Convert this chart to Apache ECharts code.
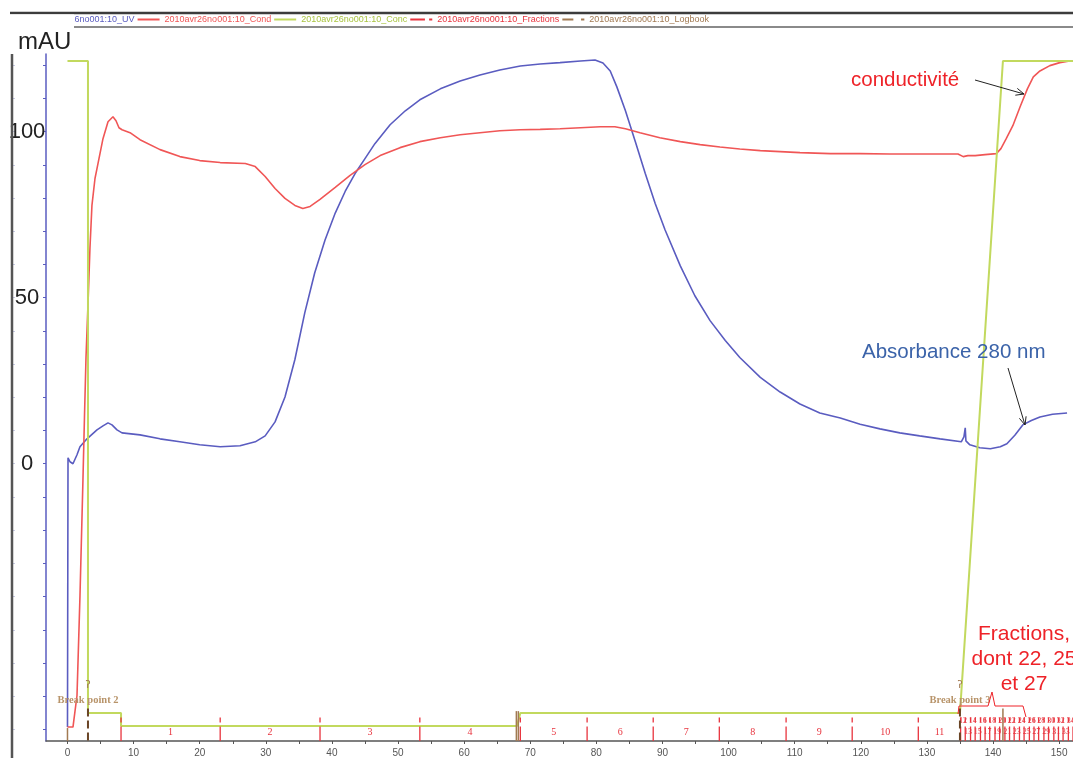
<!DOCTYPE html>
<html><head><meta charset="utf-8">
<script src="https://cdn.jsdelivr.net/npm/echarts@6/dist/echarts.min.js"></script>
<style>html,body{margin:0;padding:0;background:#fff}#c{width:1073px;height:758px}</style>
</head><body><div id="c"></div>
<script>
// ---------- DATA ----------
const uvName = '2010avr26no001:10_UV';
const condName = '2010avr26no001:10_Cond';
const concName = '2010avr26no001:10_Conc';
const fracName = '2010avr26no001:10_Fractions';
const logName = '2010avr26no001:10_Logbook';

const uvPoints = [[0,-79.3],[0.08,1.8],[0.38,0.6],[0.83,0.0],[1.13,0.3],[1.44,2.7],[1.89,5.1],[2.95,7.5],[4.46,10.2],[5.37,11.4],[6.13,12.3],[6.73,11.7],[7.49,10.2],[8.25,9.3],[10.97,8.7],[13.99,7.5],[17.0,6.6],[20.0,5.7],[23.1,5.1],[26.1,5.4],[28.4,6.6],[29.9,8.4],[31.4,12.6],[32.9,20.1],[34.4,31.4],[35.9,45.5],[37.4,57.5],[38.96,67.4],[40.5,75.5],[42.0,82.0],[43.5,87.4],[45.0,91.9],[46.5,96.4],[48.8,102.1],[51.1,106.3],[53.3,109.6],[56.4,112.9],[59.4,115.3],[62.4,117.1],[65.4,118.6],[68.5,119.8],[71.5,120.4],[74.5,120.8],[77.6,121.3],[79.8,121.6],[81.0,120.7],[82.1,118.3],[83.1,113.5],[84.4,106.3],[85.9,97.0],[87.4,87.4],[88.9,78.4],[90.4,70.4],[92.7,59.6],[94.9,50.6],[97.2,43.1],[99.5,37.1],[101.7,32.0],[104.8,26.0],[107.8,21.6],[110.8,18.0],[113.8,15.3],[116.9,13.8],[119.9,11.9],[122.9,10.5],[125.9,9.3],[128.9,8.4],[132.0,7.5],[135.2,6.6],[135.6,8.1],[135.8,10.8],[135.9,6.9],[136.5,5.7],[138.0,4.8],[139.6,4.5],[141.1,5.1],[142.1,6.0],[143.3,8.6],[144.5,11.7],[145.8,13.0],[147.1,14.1],[149.0,14.9],[151.2,15.3]];

const condPoints = [[0,-79.3],[0.83,-79.3],[1.13,-78.7],[1.44,-69.8],[1.89,-39.8],[2.34,-4.8],[2.57,14.1],[2.8,32],[3.1,47.9],[3.4,65],[3.7,77.8],[4.16,85.9],[4.46,88.9],[5.37,97.9],[6.13,103],[6.88,104.5],[7.34,103.3],[7.79,101.2],[8.25,100.6],[9.46,99.7],[10.97,97.6],[14.0,94.6],[17.0,92.5],[20.0,91.3],[23.1,90.7],[26.9,90.4],[28.4,89.5],[29.9,86.5],[31.4,82.9],[32.9,79.9],[34.4,77.8],[35.6,76.9],[36.7,77.5],[38.2,79.6],[40.5,83.2],[42.7,86.8],[45.0,90.1],[47.3,92.8],[50.3,95.2],[53.3,97.0],[56.4,98.2],[59.4,99.1],[62.4,99.7],[65.4,100.3],[68.5,100.6],[71.5,100.7],[74.5,100.9],[77.6,101.2],[80.6,101.5],[82.8,101.5],[84.4,100.9],[86.6,99.7],[89.6,98.2],[92.7,97.0],[95.7,96.1],[98.7,95.4],[101.7,94.8],[104.8,94.3],[107.8,94.0],[110.8,93.7],[115.4,93.4],[119.9,93.4],[124.4,93.3],[128.9,93.3],[134.7,93.3],[135.5,92.5],[136.2,92.8],[137.3,92.8],[138.8,93.1],[140.5,93.4],[141.2,94.9],[142.0,97.9],[143.0,101.8],[144.1,107.5],[145.2,112.9],[146.1,116.5],[147.1,118.3],[148.6,119.9],[150.1,120.8],[151.6,121.3]];

const concPoints = [[0,121.3],[3.1,121.3],[3.1,-75.1],[8.1,-75.1],[8.1,-79.0],[68.0,-79.0],[68.5,-75.1],[135.0,-75.1],[141.5,121.3],[152.1,121.3]];

const fractionBounds = [8.1,23.1,38.2,53.3,68.5,78.6,88.6,98.6,108.7,118.7,128.7,135.1,135.8,136.6,137.3,138.1,138.8,139.5,140.3,141.0,141.8,142.5,143.2,144.0,144.7,145.5,146.2,146.9,147.7,148.4,149.2,149.9,150.6,151.4,152.1];
const fractionLabels = ['1','2','3','4','5','6','7','8','9','10','11','12','13','14','15','16','17','18','19','20','21','22','23','24','25','26','27','28','29','30','31','32','33','34'];

const logbookX = [0, 3.1, 67.9, 68.2, 135.0, 141.5];
const logbookTop = [-79.6, -73.7, -74.5, -74.5, -73.7, -73.7];
const logbookLabel = ['', 'Break point 2', '', '', 'Break point 3', ''];

const xLabelValues = [0,10,20,30,40,50,60,70,80,90,100,110,120,130,140,150];
const xTickValues = [0,5,10,15,20,25,30,35,40,45,50,55,60,65,70,75,80,85,90,95,100,105,110,115,120,125,130,135,140,145,150];
const yLabelValues = [0,50,100];
const yTickValues = [-80,-70,-60,-50,-40,-30,-20,-10,0,10,20,30,40,50,60,70,80,90,100,110,120];

// ---------- STYLE ----------
const BLUE = '#5a5cc0', RED = '#f05656', GREEN = '#c2d95e', FRED = '#e8343e', BROWN = '#a27a52', BROWN_D = '#6a4526', BROWN_T = '#b8946a';
const Y_MIN = -83.5, Y_MAX = 123.4, X_MIN = -3.25, X_MAX = 152.1;
const FRAC_TOP = -76.4, ROW_LOW = -80.9, ROW_UP = -77.3, LABEL_Y = -71.2, HOOK_Y = -66.8;
const LINE_ICON = 'path://M0,0h22v2h-22z';

const fracLabelData = fractionLabels.map((lab, i) => {
  const n = i + 1;
  const row = (n >= 12 && n % 2 === 0) ? ROW_UP : ROW_LOW;
  return [(fractionBounds[i] + fractionBounds[i + 1]) / 2, row];
});

const chart = echarts.init(document.getElementById('c'), null, {renderer: 'canvas'});
chart.setOption({
  animation: false,
  backgroundColor: '#fff',
  grid: {left: 46, right: 0, top: 54, bottom: 12, containLabel: false},
  legend: {
    left: 10, top: 15, padding: 0, itemWidth: 22, itemHeight: 8, itemGap: 3, selectedMode: false,
    textStyle: {fontSize: 9, fontFamily: 'Liberation Sans'},
    data: [
      {name: uvName, icon: LINE_ICON, itemStyle: {color: BLUE}, textStyle: {color: BLUE}},
      {name: condName, icon: LINE_ICON, itemStyle: {color: RED}, textStyle: {color: RED}},
      {name: concName, icon: LINE_ICON, itemStyle: {color: GREEN}, textStyle: {color: '#a9c440'}},
      {name: fracName, icon: 'path://M0,0h14v2h-14z M18,0h3v2h-3z', itemStyle: {color: FRED}, textStyle: {color: FRED}},
      {name: logName, icon: 'path://M0,0h10v2h-10z M17,0h3v2h-3z', itemStyle: {color: BROWN}, textStyle: {color: BROWN}}
    ]
  },
  xAxis: {
    type: 'value', min: X_MIN, max: X_MAX,
    axisLine: {onZero: false, lineStyle: {color: '#555', width: 1.5}},
    axisTick: {show: true, customValues: xTickValues, length: 3, lineStyle: {color: '#555'}},
    axisLabel: {customValues: xLabelValues, margin: 7, fontSize: 10, color: '#555', fontFamily: 'Liberation Sans'},
    splitLine: {show: false}
  },
  yAxis: [{
    type: 'value', min: Y_MIN, max: Y_MAX, position: 'left',
    axisLine: {show: true, onZero: false, lineStyle: {color: BLUE, width: 1.5}},
    axisTick: {show: true, customValues: yTickValues, length: 3, lineStyle: {color: BLUE}},
    axisLabel: {customValues: yLabelValues, align: 'center', margin: 19, fontSize: 22, color: '#222', fontFamily: 'Liberation Sans'},
    splitLine: {show: false}
  }, {
    type: 'value', min: Y_MIN, max: Y_MAX, position: 'left', offset: 34,
    axisLine: {show: false, onZero: false},
    axisTick: {show: true, inside: true, customValues: yTickValues, length: 3, lineStyle: {color: '#c9cbe4'}},
    axisLabel: {show: false},
    splitLine: {show: false}
  }],
  series: [
    {name: uvName, type: 'line', data: uvPoints, symbol: 'none', lineStyle: {color: BLUE, width: 1.6}, itemStyle: {color: BLUE}, z: 3},
    {name: condName, type: 'line', data: condPoints, symbol: 'none', lineStyle: {color: RED, width: 1.6}, itemStyle: {color: RED}, z: 3},
    {name: concName, type: 'line', data: concPoints, symbol: 'none', lineStyle: {color: GREEN, width: 2}, itemStyle: {color: GREEN}, z: 4},
    {
      name: fracName, type: 'custom', data: fractionBounds.map(x => [x, FRAC_TOP]), itemStyle: {color: FRED}, z: 5,
      renderItem: (params, api) => {
        const p1 = api.coord([api.value(0), FRAC_TOP]);
        const p2 = api.coord([api.value(0), Y_MIN]);
        return {type: 'line', shape: {x1: p1[0], y1: p1[1], x2: p2[0], y2: p2[1]},
          style: {stroke: FRED, lineWidth: 1.3, lineDash: [5, 4, 40, 0]}};
      }
    },
    {
      name: fracName, type: 'custom', data: fracLabelData, itemStyle: {color: FRED}, z: 5,
      renderItem: (params, api) => {
        const i = params.dataIndex;
        const p = api.coord([api.value(0), api.value(1)]);
        const small = i >= 11;
        return {type: 'text', x: p[0], y: p[1],
          style: {text: fractionLabels[i], fill: FRED, font: (small ? '8px' : '10px') + ' "Liberation Serif"', align: 'center', verticalAlign: 'middle'}};
      }
    },
    {
      name: logName, type: 'custom', data: logbookX.map((x, i) => [x, logbookTop[i]]), itemStyle: {color: BROWN}, z: 6,
      renderItem: (params, api) => {
        const i = params.dataIndex;
        const x = api.value(0);
        const top = api.coord([x, api.value(1)]);
        const bot = api.coord([x, Y_MIN]);
        const isBreak = !!logbookLabel[i];
        const children = [{type: 'line', shape: {x1: top[0], y1: top[1], x2: bot[0], y2: bot[1]},
          style: {stroke: isBreak ? BROWN_D : BROWN, lineWidth: isBreak ? 2 : 1.5, lineDash: isBreak ? [8, 4] : null}}];
        if (isBreak) {
          const h = api.coord([x, HOOK_Y]);
          const t = api.coord([x, LABEL_Y]);
          children.push({type: 'text', x: h[0], y: h[1], style: {text: 'ʔ', fill: BROWN, font: '10px "DejaVu Sans"', align: 'center', verticalAlign: 'middle'}});
          children.push({type: 'text', x: t[0], y: t[1], style: {text: logbookLabel[i], fill: BROWN_T, font: 'bold 10.5px "Liberation Serif"', align: 'center', verticalAlign: 'middle'}});
        }
        return {type: 'group', children};
      }
    }
  ],
  graphic: [
    {type: 'line', shape: {x1: 10, y1: 13, x2: 1073, y2: 13}, style: {stroke: '#3c3c3c', lineWidth: 2.5}, z: 50},
    {type: 'line', shape: {x1: 74, y1: 27, x2: 1073, y2: 27}, style: {stroke: '#8a8a8a', lineWidth: 2}, z: 50},
    {type: 'rect', shape: {x: 0, y: 14.5, width: 74, height: 38}, style: {fill: '#fff'}, z: 60},
    {type: 'text', x: 18, y: 42, style: {text: 'mAU', fill: '#222', font: '24px "Liberation Sans"', verticalAlign: 'middle'}, z: 61},
    {type: 'line', shape: {x1: 12, y1: 54, x2: 12, y2: 758}, style: {stroke: '#555', lineWidth: 2.5}, z: 50},
    {type: 'text', x: 851, y: 80, style: {text: 'conductivité', fill: '#ee2228', font: '20.5px "Liberation Sans"', verticalAlign: 'middle'}, z: 60},
    {type: 'line', shape: {x1: 975, y1: 80, x2: 1024, y2: 94}, style: {stroke: '#222', lineWidth: 1}, z: 60},
    {type: 'polyline', shape: {points: [[1017.3, 88.4], [1024, 94], [1015.3, 95.2]]}, style: {stroke: '#222', lineWidth: 1, fill: null}, z: 60},
    {type: 'text', x: 862, y: 352, style: {text: 'Absorbance 280 nm', fill: '#3b63a9', font: '20.5px "Liberation Sans"', verticalAlign: 'middle'}, z: 60},
    {type: 'line', shape: {x1: 1008, y1: 368, x2: 1025, y2: 425}, style: {stroke: '#222', lineWidth: 1}, z: 60},
    {type: 'polyline', shape: {points: [[1019.4, 418.3], [1025, 425], [1026.1, 416.3]]}, style: {stroke: '#222', lineWidth: 1, fill: null}, z: 60},
    {type: 'text', x: 1024, y: 634, style: {text: 'Fractions,', fill: '#ee2228', font: '21px "Liberation Sans"', align: 'center', verticalAlign: 'middle'}, z: 60},
    {type: 'text', x: 1024, y: 659, style: {text: 'dont 22, 25', fill: '#ee2228', font: '21px "Liberation Sans"', align: 'center', verticalAlign: 'middle'}, z: 60},
    {type: 'text', x: 1024, y: 684, style: {text: 'et 27', fill: '#ee2228', font: '21px "Liberation Sans"', align: 'center', verticalAlign: 'middle'}, z: 60},
    {type: 'polyline', shape: {points: [[958, 714], [959, 706], [988, 706], [992, 692], [995, 706], [1023, 706], [1026, 717]]}, style: {stroke: '#ee2228', lineWidth: 1, fill: null}, z: 60}
  ]
});
</script>
</body></html>
